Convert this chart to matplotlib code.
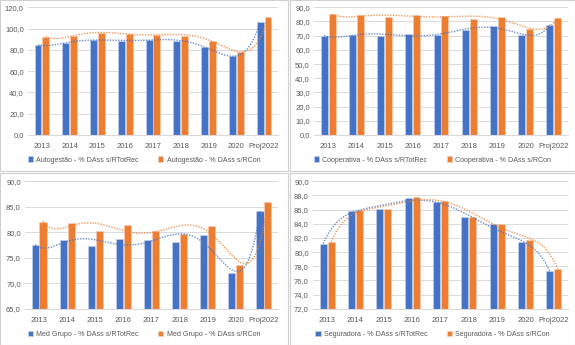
import numpy as np
import matplotlib
matplotlib.use("Agg")
import matplotlib.pyplot as plt
from matplotlib.patches import Rectangle

plt.rcParams['font.family'] = ['Liberation Sans', 'DejaVu Sans']

categories = ["2013", "2014", "2015", "2016", "2017", "2018", "2019", "2020", "Proj2022"]

auto_rtot = [84.7, 86.6, 89.4, 88.5, 89.7, 88.8, 82.8, 74.0, 106.4]
auto_rcon = [92.5, 93.5, 96.0, 95.0, 94.4, 93.5, 88.5, 77.8, 111.3]

coop_rtot = [70.0, 70.7, 70.0, 71.2, 70.5, 73.8, 76.6, 70.7, 77.8]
coop_rcon = [85.0, 84.3, 83.3, 84.5, 83.8, 82.0, 82.9, 74.6, 82.4]

med_rtot = [77.5, 78.5, 77.4, 78.7, 78.4, 78.0, 79.4, 72.0, 84.25]
med_rcon = [82.1, 81.9, 80.2, 81.5, 80.3, 79.7, 81.2, 73.5, 85.9]

seg_rtot = [81.15, 85.76, 86.1, 87.7, 87.1, 84.95, 83.9, 81.4, 77.3]
seg_rcon = [81.4, 85.9, 86.15, 87.75, 87.15, 85.0, 83.9, 81.75, 77.65]

panels = [
    dict(name="Autogestão", a=auto_rtot, b=auto_rcon, ylim=(0, 120), step=20,
         box=(28, 7.3, 278, 135), frame=(0, 0, 288, 171), tick_y=144, leg_y=160),
    dict(name="Cooperativa", a=coop_rtot, b=coop_rcon, ylim=(0, 90), step=10,
         box=(314, 7.3, 568, 135), frame=(290, 0, 575, 171), tick_y=144, leg_y=160),
    dict(name="Med Grupo", a=med_rtot, b=med_rcon, ylim=(65, 90), step=5,
         box=(25, 181.3, 278, 308.7), frame=(0, 173, 288, 345), tick_y=318, leg_y=334.5),
    dict(name="Seguradora", a=seg_rtot, b=seg_rcon, ylim=(72, 90), step=2,
         box=(313, 181.3, 568, 308.7), frame=(290, 173, 575, 345), tick_y=318, leg_y=334.5),
]

W, H = 575, 345
fig = plt.figure(figsize=(W / 100, H / 100), dpi=100)

BLUE = "#4472C4"
ORANGE = "#ED7D31"
GRID = "#D9D9D9"
TXT = "#595959"

# frames
for p in panels:
    x0, y0, x1, y1 = p["frame"]
    fig.patches.append(Rectangle((x0 / W, 1 - y1 / H), (x1 - x0) / W, (y1 - y0) / H,
                                 transform=fig.transFigure, fill=False,
                                 edgecolor="#D0D0D0", linewidth=0.8))

bw = 0.25
off = 0.14
x = np.arange(len(categories))
xf = np.linspace(0, len(categories) - 1, 200)

for p in panels:
    l, t, r, b = p["box"]
    ax = fig.add_axes([l / W, 1 - b / H, (r - l) / W, (b - t) / H])
    a = np.array(p["a"]); bb = np.array(p["b"])
    ax.bar(x - off, a, width=bw, color=BLUE, edgecolor="#C9D6EE", linewidth=0.4, zorder=2,
           label=f"{p['name']} - % DAss s/RTotRec")
    ax.bar(x + off, bb, width=bw, color=ORANGE, edgecolor="#F8D2B8", linewidth=0.4, zorder=2,
           label=f"{p['name']} - % DAss s/RCon")
    # polynomial trendlines (order 6)
    for vals, o, c in ((a, -off, BLUE), (bb, off, ORANGE)):
        coef = np.polyfit(x + 1, vals, 6)
        ax.plot(xf + o, np.polyval(coef, xf + 1), color=c, linestyle=(0, (1, 1)),
                linewidth=1.0, zorder=3, alpha=0.8)
    lo, hi = p["ylim"]
    ax.set_ylim(lo, hi)
    ax.set_xlim(-0.5, len(categories) - 0.5)
    ticks = np.arange(lo, hi + 0.001, p["step"])
    ax.set_yticks(ticks)
    ax.set_yticklabels([f"{v:.1f}".replace(".", ",") for v in ticks])
    ax.set_xticks(x)
    ax.set_xticklabels(categories)
    ax.tick_params(axis="both", length=0, labelsize=5.5, colors=TXT)
    ax.tick_params(axis="x", pad=(p["tick_y"] - b) - 3)
    ax.tick_params(axis="y", pad=3)
    ax.grid(axis="y", color=GRID, linewidth=0.7, zorder=0)
    ax.set_axisbelow(True)
    for s in ("top", "right", "left"):
        ax.spines[s].set_visible(False)
    ax.spines["bottom"].set_color(GRID)
    ax.spines["bottom"].set_linewidth(0.8)
    ax.patch.set_visible(False)
    # legend
    cx = (p["frame"][0] + p["frame"][2]) / 2
    leg = fig.legend(handles=ax.containers, labels=[c.get_label() for c in ax.containers],
                     loc="center", bbox_to_anchor=(cx / W, 1 - p["leg_y"] / H), ncol=2,
                     frameon=False, fontsize=5.1, handlelength=0.75, handleheight=0.75,
                     handletextpad=0.45, columnspacing=2.7, labelcolor=TXT)

fig.savefig("out.png", dpi=100, facecolor="white")
